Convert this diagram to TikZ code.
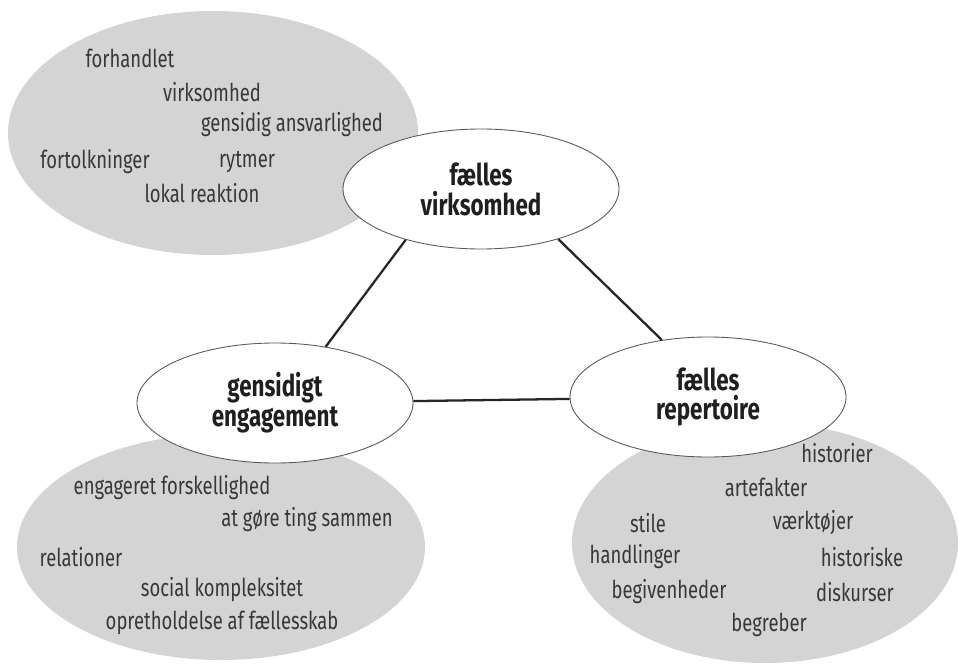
\documentclass[tikz,border=0pt]{standalone}
\usepackage{fontspec}
\setmainfont{Fira Sans}[FakeStretch=0.75]
\usetikzlibrary{shapes.geometric}

\begin{document}
\begin{tikzpicture}[
    blob/.style={ellipse,fill=black!17,inner sep=0pt},
    core/.style={ellipse,draw=black!65,fill=white,line width=0.5pt,minimum width=5.52cm,minimum height=2.4cm,
      align=center,font=\bfseries\fontsize{17}{17}\selectfont,text=black!88},
    word/.style={inner sep=0pt,font=\fontsize{14}{16}\selectfont,text=black!78},
    link/.style={line width=1.3pt,black!85}]
    \useasboundingbox(0,0)rectangle(19.18,13.36);
    % grey fields
    \node[blob,minimum width=8.2cm,minimum height=4.88cm](fieldA)at(4.26,10.70){};
    \node[blob,minimum width=8.16cm,minimum height=4.52cm](fieldB)at(4.42,2.42){};
    \node[blob,minimum width=7.72cm,minimum height=4.8cm](fieldC)at(15.30,2.50){};
    % the three dimensions
    \node[core](virk)at(9.62,9.58){fælles\\virksomhed};
    \node[core](enga)at(5.50,5.30){gensidigt\\engagement};
    \node[core](repe)at(14.16,5.42){fælles\\repertoire};
    \draw[link](virk.214)--(enga.48);
    \draw[link](virk.327)--(repe.129);
    \draw[link](enga)--(repe);
    % words, virksomhed
    \node[word](w1)at(2.60,12.20){forhandlet};
    \node[word](w2)at(4.24,11.52){virksomhed};
    \node[word](w3)at(5.84,10.86){gensidig ansvarlighed};
    \node[word](w4)at(1.90,10.12){fortolkninger};
    \node[word](w5)at(4.94,10.12){rytmer};
    \node[word](w6)at(4.04,9.50){lokal reaktion};
    % words, engagement
    \node[word](e1)at(3.44,3.60){engageret forskellighed};
    \node[word](e2)at(6.14,2.96){at gøre ting sammen};
    \node[word](e3)at(1.62,2.22){relationer};
    \node[word](e4)at(4.44,1.56){social kompleksitet};
    \node[word](e5)at(4.44,0.90){opretholdelse af fællesskab};
    % words, repertoire
    \node[word](r1)at(16.74,4.30){historier};
    \node[word](r2)at(15.32,3.62){artefakter};
    \node[word](r3)at(12.96,2.90){stile};
    \node[word](r4)at(16.26,2.90){værktøjer};
    \node[word](r5)at(12.70,2.22){handlinger};
    \node[word](r6)at(17.24,2.22){historiske};
    \node[word](r7)at(13.38,1.52){begivenheder};
    \node[word](r8)at(17.10,1.52){diskurser};
    \node[word](r9)at(15.38,0.86){begreber};
\end{tikzpicture}
\end{document}
